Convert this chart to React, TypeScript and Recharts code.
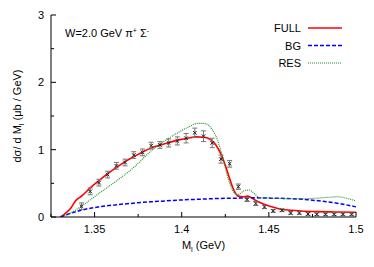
import React from 'react';
import { ComposedChart, Line, Scatter, ErrorBar, XAxis, YAxis, Legend } from 'recharts';

const FONT = '"Liberation Sans", Arial, Helvetica, sans-serif';
const W = 366;
const H = 259;

// FULL model curve
const fullX = [1.3305, 1.3331, 1.3363, 1.3391, 1.343, 1.3478, 1.353, 1.3578, 1.3628, 1.3679, 1.3729, 1.3778, 1.3828, 1.3879, 1.3932, 1.3983, 1.4034, 1.4082, 1.4129, 1.4166, 1.4196, 1.4224, 1.425, 1.4275, 1.4299, 1.4324, 1.4353, 1.4378, 1.4398, 1.4422, 1.4462, 1.4512, 1.4568, 1.4626, 1.4683, 1.478, 1.4873, 1.5];
const fullY = [0, 0.05, 0.13, 0.24, 0.32, 0.44, 0.55, 0.65, 0.74, 0.83, 0.9, 0.97, 1.03, 1.07, 1.11, 1.145, 1.17, 1.19, 1.185, 1.15, 1.07, 0.94, 0.77, 0.57, 0.4, 0.31, 0.3, 0.31, 0.29, 0.25, 0.2, 0.155, 0.115, 0.1, 0.09, 0.08, 0.075, 0.07];

// BG curve
const bgX = [1.3305, 1.3336, 1.3363, 1.3422, 1.3476, 1.3537, 1.3619, 1.3721, 1.3817, 1.3916, 1.4014, 1.4113, 1.4212, 1.4311, 1.441, 1.4509, 1.4607, 1.4706, 1.4805, 1.4904, 1.5];
const bgY = [0, 0.03, 0.055, 0.1, 0.13, 0.155, 0.18, 0.205, 0.225, 0.24, 0.255, 0.265, 0.275, 0.28, 0.285, 0.28, 0.275, 0.26, 0.235, 0.2, 0.15];

// RES curve
const resX = [1.3305, 1.3363, 1.343, 1.353, 1.3628, 1.3727, 1.3828, 1.3932, 1.4034, 1.4091, 1.4129, 1.4177, 1.4206, 1.4234, 1.4263, 1.4291, 1.432, 1.4359, 1.4387, 1.4416, 1.4445, 1.4511, 1.4683, 1.478, 1.4895, 1.4971, 1.5];
const resY = [0, 0.06, 0.17, 0.36, 0.54, 0.74, 0.99, 1.18, 1.33, 1.39, 1.39, 1.29, 1.14, 0.9, 0.6, 0.4, 0.33, 0.39, 0.4, 0.35, 0.29, 0.28, 0.27, 0.28, 0.3, 0.26, 0.24];

// Data points
const ptX = [1.3425, 1.3475, 1.3525, 1.3575, 1.3625, 1.3675, 1.3725, 1.3775, 1.3825, 1.3875, 1.3925, 1.3975, 1.4025, 1.4075, 1.4125, 1.4175, 1.4225, 1.4275, 1.4325, 1.4375, 1.4425, 1.4475, 1.4525, 1.4575, 1.4625, 1.4675, 1.4725, 1.4775, 1.4825, 1.4875, 1.4925, 1.4975];
const ptY = [0.16, 0.38, 0.51, 0.63, 0.76, 0.81, 0.92, 0.96, 1.06, 1.07, 1.1, 1.13, 1.17, 1.25, 1.2, 1.1, 0.86, 0.79, 0.45, 0.26, 0.2, 0.15, 0.09, 0.1, 0.06, 0.06, 0.045, 0.04, 0.04, 0.04, 0.04, 0.04];
const ptErr = [0.05, 0.05, 0.05, 0.05, 0.05, 0.05, 0.05, 0.05, 0.05, 0.05, 0.06, 0.06, 0.07, 0.07, 0.08, 0.07, 0.06, 0.05, 0.04, 0.03, 0.03, 0.025, 0.02, 0.02, 0.02, 0.02, 0.02, 0.02, 0.02, 0.02, 0.02, 0.02];

const xTicks = [1.325, 1.35, 1.375, 1.4, 1.425, 1.45, 1.475, 1.5];
const yTicks = [0, 0.5, 1, 1.5, 2, 2.5, 3];
const xDomain: [number, number] = [1.325, 1.5];
const yDomain: [number, number] = [0, 3];

const seriesNames = ['FULL', 'BG', 'RES'];
const seriesColors = ['#ff0000', '#0000ff', '#1f8f1f'];
const seriesDash = ['', '4 2', '1 1'];
const seriesWidth = [1.6, 1.5, 1.1];

const zip = (xs: number[], ys: number[]) => xs.map((x, i) => ({ x, y: ys[i] }));
const fullData = zip(fullX, fullY);
const bgData = zip(bgX, bgY);
const resData = zip(resX, resY);
const seriesData = [fullData, bgData, resData];
const pointData = ptX.map((x, i) => ({ x, y: ptY[i], err: ptErr[i] }));

const isMajorX = (v: number) => Math.abs(v * 20 - Math.round(v * 20)) < 1e-6;
const isMajorY = (v: number) => Math.abs(v - Math.round(v)) < 1e-6;
const fmtX = (v: number) => String(Math.round(v * 100) / 100);

function BottomTick(props: any) {
  const { x, y, payload } = props;
  const v = payload.value;
  const major = isMajorX(v);
  return (
    <g>
      <line x1={x} x2={x} y1={y} y2={y - (major ? 5 : 3)} stroke="#000" strokeWidth={1} />
      {major && (
        <text x={x} y={y + 15.5} textAnchor="middle" fontSize={11} fontFamily={FONT} fill="#000">
          {fmtX(v)}
        </text>
      )}
    </g>
  );
}

function TopTick(props: any) {
  const { x, y, payload } = props;
  const major = isMajorX(payload.value);
  return <line x1={x} x2={x} y1={y} y2={y + (major ? 5 : 3)} stroke="#000" strokeWidth={1} />;
}

function LeftTick(props: any) {
  const { x, y, payload } = props;
  const v = payload.value;
  const major = isMajorY(v);
  return (
    <g>
      <line x1={x} x2={x + (major ? 5 : 3)} y1={y} y2={y} stroke="#000" strokeWidth={1} />
      {major && (
        <text x={x - 7} y={y + 4} textAnchor="end" fontSize={11} fontFamily={FONT} fill="#000">
          {String(v)}
        </text>
      )}
    </g>
  );
}

function RightTick(props: any) {
  const { x, y, payload } = props;
  const major = isMajorY(payload.value);
  return <line x1={x} x2={x - (major ? 5 : 3)} y1={y} y2={y} stroke="#000" strokeWidth={1} />;
}

function XMark(props: any) {
  const { cx, cy } = props;
  if (cx == null || cy == null) return null;
  const s = 1.8;
  return (
    <path
      d={`M${cx - s},${cy - s}L${cx + s},${cy + s}M${cx - s},${cy + s}L${cx + s},${cy - s}`}
      stroke="#222"
      strokeWidth={1}
      fill="none"
    />
  );
}

function XLabel(props: any) {
  const vb = props.viewBox || {};
  const cx = vb.x + vb.width / 2;
  const y = vb.y + 32;
  return (
    <text x={cx} y={y} textAnchor="middle" fontSize={11} fontFamily={FONT} fill="#000">
      M<tspan dy={3} fontSize={7.5}>l</tspan>
      <tspan dy={-3}> (GeV)</tspan>
    </text>
  );
}

function YLabel(props: any) {
  const vb = props.viewBox || {};
  const cx = 13;
  const cy = vb.y + vb.height / 2;
  return (
    <text
      x={cx}
      y={cy}
      textAnchor="middle"
      fontSize={11}
      fontFamily={FONT}
      fill="#000"
      transform={`rotate(-90 ${cx} ${cy})`}
    >
      dσ/ d M<tspan dy={3} fontSize={7.5}>l</tspan>
      <tspan dy={-3}> (μb / GeV)</tspan>
    </text>
  );
}

function LegendBox() {
  return (
    <svg width={W} height={70} style={{ display: 'block', overflow: 'visible' }}>
      {seriesNames.map((name, i) => {
        const cy = 20 + i * 17.5;
        return (
          <g key={name}>
            <text x={293} y={cy + 4} textAnchor="end" fontSize={11} fontFamily={FONT} fill="#000">
              {name}
            </text>
            <line
              x1={300}
              x2={334}
              y1={cy}
              y2={cy}
              stroke={seriesColors[i]}
              strokeWidth={seriesWidth[i]}
              strokeDasharray={seriesDash[i] || undefined}
            />
          </g>
        );
      })}
      <text x={57} y={29} fontSize={11} fontFamily={FONT} fill="#000">
        W=2.0 GeV π<tspan dy={-4} fontSize={7}>+</tspan>
        <tspan dy={4}> Σ</tspan>
        <tspan dy={-4} fontSize={7}>-</tspan>
      </text>
    </svg>
  );
}

export default function App() {
  return (
    <div style={{ width: W, height: H, position: 'relative' }}>
      <ComposedChart width={W} height={H} margin={{ top: 7, right: 18, bottom: 0, left: 0 }}>
        <XAxis
          xAxisId="b"
          type="number"
          dataKey="x"
          domain={xDomain}
          allowDataOverflow
          ticks={xTicks}
          interval={0}
          height={50}
          tickSize={0}
          tickMargin={0}
          tickLine={false}
          tick={<BottomTick />}
          axisLine={{ stroke: '#000', strokeWidth: 1 }}
          label={<XLabel />}
        />
        <XAxis
          xAxisId="t"
          orientation="top"
          type="number"
          dataKey="x"
          domain={xDomain}
          allowDataOverflow
          ticks={xTicks}
          interval={0}
          height={0}
          tickSize={0}
          tickMargin={0}
          tickLine={false}
          tick={<TopTick />}
          axisLine={{ stroke: '#000', strokeWidth: 1 }}
        />
        <YAxis
          yAxisId="l"
          type="number"
          domain={yDomain}
          allowDataOverflow
          ticks={yTicks}
          interval={0}
          width={43}
          tickSize={0}
          tickMargin={0}
          tickLine={false}
          tick={<LeftTick />}
          axisLine={{ stroke: '#000', strokeWidth: 1 }}
          label={<YLabel />}
        />
        <YAxis
          yAxisId="r"
          orientation="right"
          type="number"
          domain={yDomain}
          allowDataOverflow
          ticks={yTicks}
          interval={0}
          width={0}
          tickSize={0}
          tickMargin={0}
          tickLine={false}
          tick={<RightTick />}
          axisLine={{ stroke: '#000', strokeWidth: 1 }}
        />
        <Legend
          layout="horizontal"
          verticalAlign="middle"
          align="center"
          content={<LegendBox />}
          wrapperStyle={{ position: 'absolute', left: 0, top: 0, width: W, height: 70, pointerEvents: 'none' }}
        />
        {seriesNames.map((name, i) => (
          <Line
            key={name}
            name={name}
            xAxisId="b"
            yAxisId="l"
            data={seriesData[i]}
            dataKey="y"
            type="monotone"
            stroke={seriesColors[i]}
            strokeWidth={seriesWidth[i]}
            strokeDasharray={seriesDash[i] || undefined}
            dot={false}
            activeDot={false}
            isAnimationActive={false}
          />
        ))}
        <Scatter
          name="data"
          xAxisId="b"
          yAxisId="l"
          data={pointData}
          dataKey="y"
          shape={<XMark />}
          isAnimationActive={false}
        >
          <ErrorBar dataKey="err" direction="y" width={2.5} stroke="#777" strokeWidth={1} isAnimationActive={false} />
        </Scatter>
      </ComposedChart>
    </div>
  );
}
